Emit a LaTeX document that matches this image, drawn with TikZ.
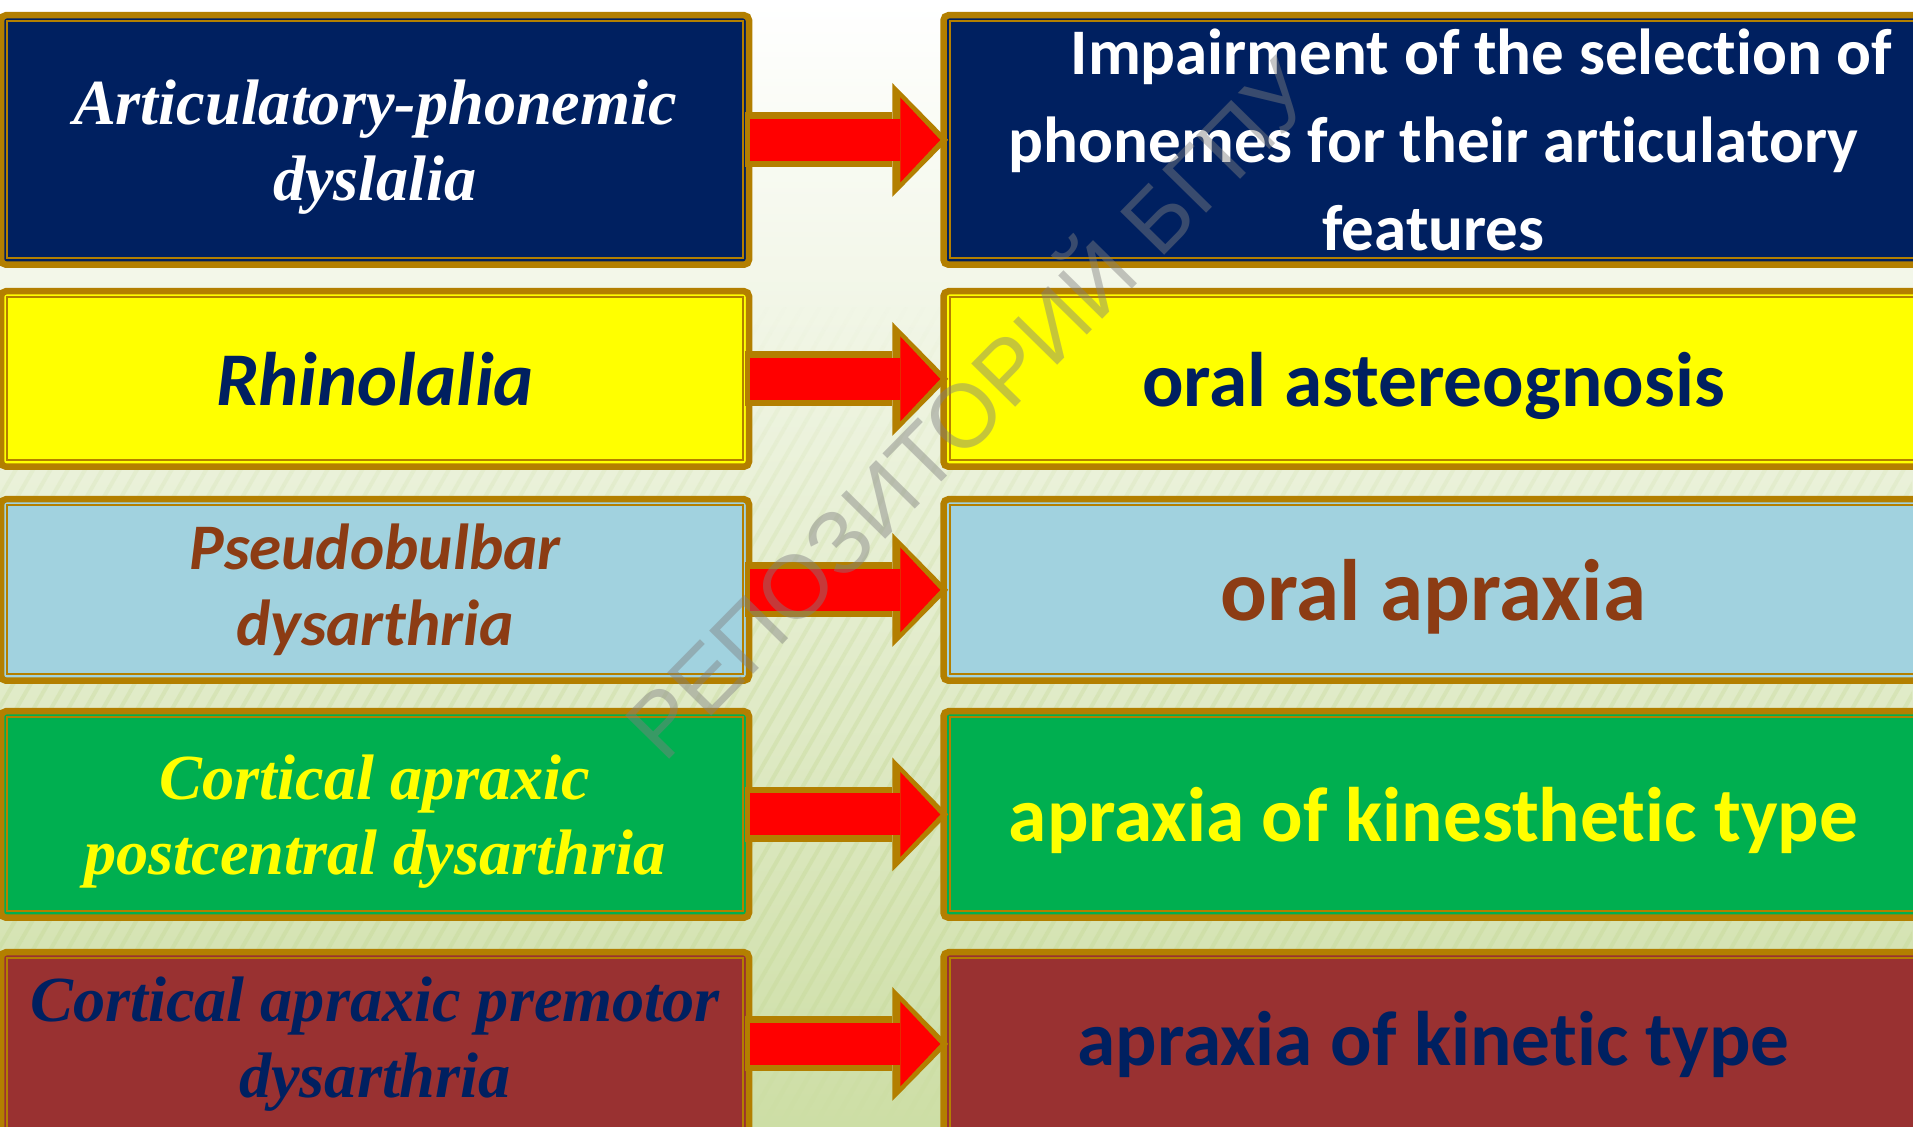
\documentclass[tikz,border=0pt]{standalone}
\usepackage{fontspec}
\usetikzlibrary{positioning,arrows.meta,patterns.meta,fadings}
\newfontfamily\timesf{Liberation Serif}
\newfontfamily\calibf{Carlito}[Ligatures=NoCommon]
\newfontfamily\wmfont{Liberation Sans}
\definecolor{boxnavy}{HTML}{002060}
\definecolor{boxyellow}{HTML}{FFFF00}
\definecolor{boxblue}{HTML}{A1D2DF}
\definecolor{boxgreen}{HTML}{00AF50}
\definecolor{boxred}{HTML}{993131}
\definecolor{textbrown}{HTML}{8C3C14}
\definecolor{gold}{HTML}{B37F00}
\definecolor{arrowred}{HTML}{FF0000}
\definecolor{bggreen}{RGB}{205,222,165}
\definecolor{bggrey}{RGB}{238,240,234}

\begin{document}
\begin{tikzpicture}[
  box/.style={draw=gold, line width=0.065cm, rounded corners=0.05cm, align=center, inner sep=0pt},
  lbox/.style={box, minimum width=7.48cm},
  rbox/.style={box, minimum width=9.8cm},
  inline/.style={draw=gold, line width=0.02cm},
  tnr/.style={font=\timesf\bfseries\itshape\fontsize{18.3}{21.5}\selectfont},
  calit/.style={font=\calibf\bfseries\itshape\fontsize{18.5}{21.6}\selectfont},
  calbig/.style={font=\calibf\bfseries\fontsize{22}{26}\selectfont},
  arrowout/.style={-{Triangle[length=0.56cm,width=1.14cm,line width=0pt]}, draw=gold, line width=0.55cm, shorten <=-0.07cm, shorten >=-0.08cm},
  arrowin/.style={-{Triangle[length=0.40cm,width=0.85cm,line width=0pt]}, draw=arrowred, line width=0.42cm, shorten <=-0.02cm}
]
\useasboundingbox (0,0) rectangle (19.13,11.27);
\fill[top color=white, middle color=bggrey, bottom color=bggreen] (0,0) rectangle (19.13,11.27);
\fill[path fading=north, pattern={Lines[angle=60,distance=0.15cm,line width=0.04cm]}, pattern color=bggreen] (0,0) rectangle (19.13,8.2);

\node[lbox, fill=boxnavy, minimum height=2.495cm, tnr, text=white, text depth=0pt] (l1) at (3.75,9.87) {Articulatory-phonemic\\dyslalia};
\node[lbox, fill=boxyellow, minimum height=1.755cm, calit, font=\calibf\bfseries\itshape\fontsize{21.6}{26}\selectfont, text=boxnavy] (l2) at (3.75,7.48) {Rhinolalia};
\node[lbox, fill=boxblue, minimum height=1.815cm, calit, text=textbrown] (l3) at (3.75,5.37) {Pseudobulbar\\dysarthria};
\node[lbox, fill=boxgreen, minimum height=2.065cm, tnr, text=boxyellow, text depth=0pt] (l4) at (3.75,3.125) {Cortical apraxic\\postcentral dysarthria};
\node[lbox, fill=boxred, minimum height=1.835cm, tnr, text=boxnavy] (l5) at (3.75,0.83) {Cortical apraxic premotor\\dysarthria};

\node[rbox, fill=boxnavy, minimum height=2.495cm, right=1.88cm of l1, font=\calibf\bfseries\fontsize{18.5}{25}\selectfont, text=white] (r1) {\hspace*{0.96cm}Impairment of the selection of\\phonemes for their articulatory\\features};
\node[rbox, fill=boxyellow, minimum height=1.755cm, right=1.88cm of l2, calbig, text=boxnavy, text depth=0pt] (r2) {oral astereognosis};
\node[rbox, fill=boxblue, minimum height=1.815cm, right=1.88cm of l3, font=\calibf\bfseries\fontsize{24.8}{28}\selectfont, text=textbrown, text depth=0pt] (r3) {oral apraxia};
\node[rbox, fill=boxgreen, minimum height=2.065cm, right=1.88cm of l4, calbig, text=boxyellow, text depth=0pt] (r4) {apraxia of kinesthetic type};
\node[rbox, fill=boxred, minimum height=1.835cm, right=1.88cm of l5, calbig, text=boxnavy] (r5) {apraxia of kinetic type};

\foreach \n in {l1,l2,l3,l4,l5,r1,r2,r3,r4,r5}
  \draw[inline] ([shift={(0.095,-0.095)}]\n.north west) rectangle ([shift={(-0.095,0.095)}]\n.south east);

\foreach \i in {1,...,5} {
  \draw[arrowout] (l\i) -- (r\i);
  \draw[arrowin] (l\i) -- (r\i);
}

\node[rotate=45.5, text=gray, opacity=0.45, font=\wmfont\fontsize{25.5}{30}\selectfont] (mark) at (9.64,7.24) {РЕПОЗИТОРИЙ БГПУ};
\end{tikzpicture}
\end{document}
